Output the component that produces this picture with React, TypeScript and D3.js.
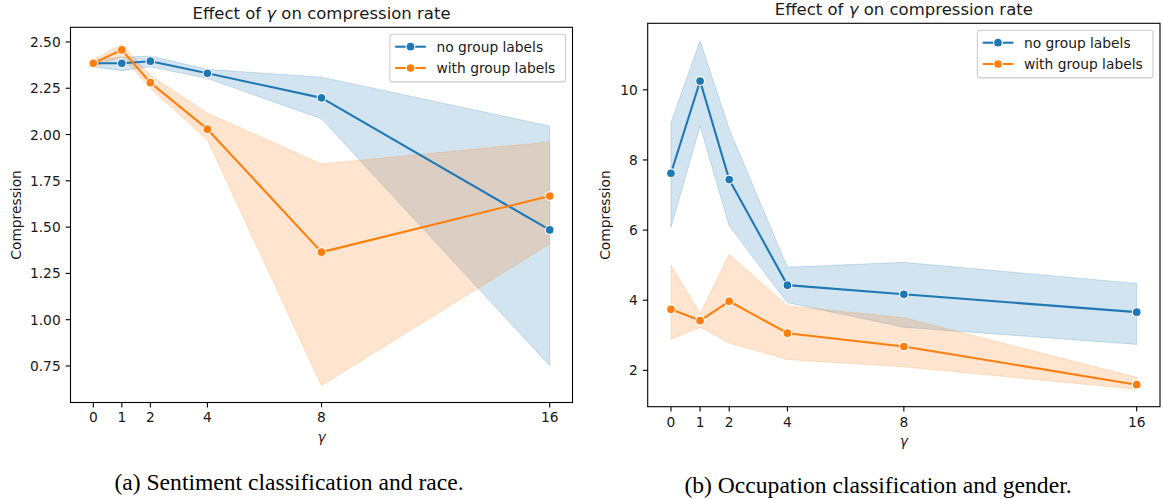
import React from "react";
import * as d3 from "d3";

// ---------- data ----------
const GAMMA = [0, 1, 2, 4, 8, 16];
const X_TICKS = [0, 1, 2, 4, 8, 16];

// (a) Sentiment classification and race
const sentNoMean = [2.385, 2.385, 2.396, 2.331, 2.198, 1.485];
const sentNoLo = [2.365, 2.345, 2.366, 2.303, 2.085, 0.752];
const sentNoHi = [2.402, 2.417, 2.424, 2.352, 2.31, 2.046];
const sentWithMean = [2.385, 2.457, 2.28, 2.029, 1.365, 1.668];
const sentWithLo = [2.365, 2.42, 2.25, 1.971, 0.645, 1.41];
const sentWithHi = [2.405, 2.487, 2.32, 2.115, 1.841, 1.96];
const SENT_Y_TICKS = [0.75, 1.0, 1.25, 1.5, 1.75, 2.0, 2.25, 2.5];

// (b) Occupation classification and gender
const occNoMean = [7.62, 10.25, 7.44, 4.43, 4.17, 3.66];
const occNoLo = [6.08, 8.97, 6.12, 3.93, 3.23, 2.74];
const occNoHi = [9.07, 11.4, 8.88, 4.94, 5.08, 4.48];
const occWithMean = [3.74, 3.42, 3.97, 3.06, 2.68, 1.59];
const occWithLo = [2.89, 3.23, 2.78, 2.31, 2.1, 1.46];
const occWithHi = [5.0, 3.62, 5.31, 3.84, 3.5, 1.8];
const OCC_Y_TICKS = [2, 4, 6, 8, 10];

const SERIES_NAMES = ["no group labels", "with group labels"];
const COLORS = ["#1f77b4", "#ff7f0e"];

const CAPTIONS = [
  "(a) Sentiment classification and race.",
  "(b) Occupation classification and gender.",
];

// ---------- helpers ----------
const FONT = "DejaVu Sans, sans-serif";
const TICK_FS = 13.8;
const TEXT = "#1a1a1a";

function paddedExtent(values: number[], frac = 0.05): [number, number] {
  const lo = d3.min(values) as number;
  const hi = d3.max(values) as number;
  const m = (hi - lo) * frac;
  return [lo - m, hi + m];
}

type Series = { mean: number[]; lo: number[]; hi: number[] };

type PanelProps = {
  left: number;
  right: number;
  top: number;
  bottom: number;
  series: Series[];
  yTicks: number[];
  yFormat: (v: number) => string;
  ylabelX: number;
};

function Panel({ left, right, top, bottom, series, yTicks, yFormat, ylabelX }: PanelProps) {
  const x = d3.scaleLinear().domain(paddedExtent(GAMMA)).range([left, right]);
  const allY = series.flatMap((s) => [...s.mean, ...s.lo, ...s.hi]);
  const y = d3.scaleLinear().domain(paddedExtent(allY)).range([bottom, top]);

  const bandPath = (s: Series) =>
    d3
      .area<number>()
      .x((_, i) => x(GAMMA[i]))
      .y0((_, i) => y(s.lo[i]))
      .y1((_, i) => y(s.hi[i]))(s.mean) as string;

  const linePath = (s: Series) =>
    d3
      .line<number>()
      .x((_, i) => x(GAMMA[i]))
      .y((d) => y(d))(s.mean) as string;

  const tickLen = 4.9;
  const midX = (left + right) / 2;
  const midY = (top + bottom) / 2;

  // legend geometry
  const legW = 175.6;
  const legH = 47.6;
  const legX = right - 7 - legW;
  const legY = top + 7;

  return (
    <g>
      {/* bands */}
      {series.map((s, k) => (
        <path key={"b" + k} d={bandPath(s)} fill={COLORS[k]} fillOpacity={0.2} stroke={COLORS[k]} strokeOpacity={0.2} strokeWidth={1} />
      ))}
      {/* lines + markers */}
      {series.map((s, k) => (
        <g key={"l" + k}>
          <path d={linePath(s)} fill="none" stroke={COLORS[k]} strokeWidth={2.1} strokeLinejoin="round" />
          {s.mean.map((v, i) => (
            <circle key={i} cx={x(GAMMA[i])} cy={y(v)} r={4.4} fill={COLORS[k]} stroke="#ffffff" strokeWidth={1.1} />
          ))}
        </g>
      ))}
      {/* frame */}
      <rect x={left} y={top} width={right - left} height={bottom - top} fill="none" stroke="#000" strokeWidth={1.1} />
      {/* x ticks */}
      {X_TICKS.map((t) => (
        <g key={"xt" + t}>
          <line x1={x(t)} x2={x(t)} y1={bottom} y2={bottom + tickLen} stroke="#000" strokeWidth={1.1} />
          <text x={x(t)} y={bottom + tickLen + 4.9 + 10} textAnchor="middle" fontFamily={FONT} fontSize={TICK_FS} fill={TEXT}>
            {t}
          </text>
        </g>
      ))}
      {/* y ticks */}
      {yTicks.map((t) => (
        <g key={"yt" + t}>
          <line x1={left - tickLen} x2={left} y1={y(t)} y2={y(t)} stroke="#000" strokeWidth={1.1} />
          <text x={left - tickLen - 4.9} y={y(t)} dy="0.36em" textAnchor="end" fontFamily={FONT} fontSize={TICK_FS} fill={TEXT}>
            {yFormat(t)}
          </text>
        </g>
      ))}
      {/* axis labels */}
      <text x={midX} y={bottom + 39} textAnchor="middle" fontFamily={FONT} fontSize={TICK_FS} fontStyle="italic" fill={TEXT}>
        γ
      </text>
      <text
        transform={`translate(${ylabelX},${midY}) rotate(-90)`}
        textAnchor="middle"
        dy="0.36em"
        fontFamily={FONT}
        fontSize={TICK_FS}
        fill={TEXT}
      >
        Compression
      </text>
      {/* title */}
      <text x={midX} y={top - 8.5} textAnchor="middle" fontFamily={FONT} fontSize={16.5} fill={TEXT}>
        Effect of <tspan fontStyle="italic">γ</tspan> on compression rate
      </text>
      {/* legend */}
      <rect x={legX} y={legY} width={legW} height={legH} rx={2.8} fill="#fff" fillOpacity={0.8} stroke="#cccccc" strokeWidth={1.1} />
      {SERIES_NAMES.map((name, k) => {
        const yy = legY + 12.4 + k * 21.3;
        return (
          <g key={"lg" + k}>
            <line x1={legX + 5.3} x2={legX + 35.9} y1={yy} y2={yy} stroke={COLORS[k]} strokeWidth={2.1} />
            <circle cx={legX + 20.6} cy={yy} r={4.4} fill={COLORS[k]} stroke="#fff" strokeWidth={1.1} />
            <text x={legX + 46.6} y={yy} dy="0.36em" fontFamily={FONT} fontSize={TICK_FS} fill={TEXT}>
              {name}
            </text>
          </g>
        );
      })}
    </g>
  );
}

export default function App() {
  const sent: Series[] = [
    { mean: sentNoMean, lo: sentNoLo, hi: sentNoHi },
    { mean: sentWithMean, lo: sentWithLo, hi: sentWithHi },
  ];
  const occ: Series[] = [
    { mean: occNoMean, lo: occNoLo, hi: occNoHi },
    { mean: occWithMean, lo: occWithLo, hi: occWithHi },
  ];
  return (
    <svg
      width={1163}
      height={499}
      style={{ position: "absolute", left: 0, top: 0, background: "#fff" }}
    >
      <rect x={0} y={0} width={1163} height={499} fill="#fff" />
      <Panel
        left={70.5}
        right={572.5}
        top={27.3}
        bottom={402.5}
        series={sent}
        yTicks={SENT_Y_TICKS}
        yFormat={d3.format(".2f")}
        ylabelX={16}
      />
      <Panel
        left={647.7}
        right={1160}
        top={23.3}
        bottom={406.7}
        series={occ}
        yTicks={OCC_Y_TICKS}
        yFormat={d3.format("d")}
        ylabelX={605}
      />
      <text x={289} y={490} textAnchor="middle" fontFamily="Liberation Serif, serif" fontSize={23.6} fill="#000">
        {CAPTIONS[0]}
      </text>
      <text x={878} y={493} textAnchor="middle" fontFamily="Liberation Serif, serif" fontSize={23.6} fill="#000">
        {CAPTIONS[1]}
      </text>
    </svg>
  );
}
